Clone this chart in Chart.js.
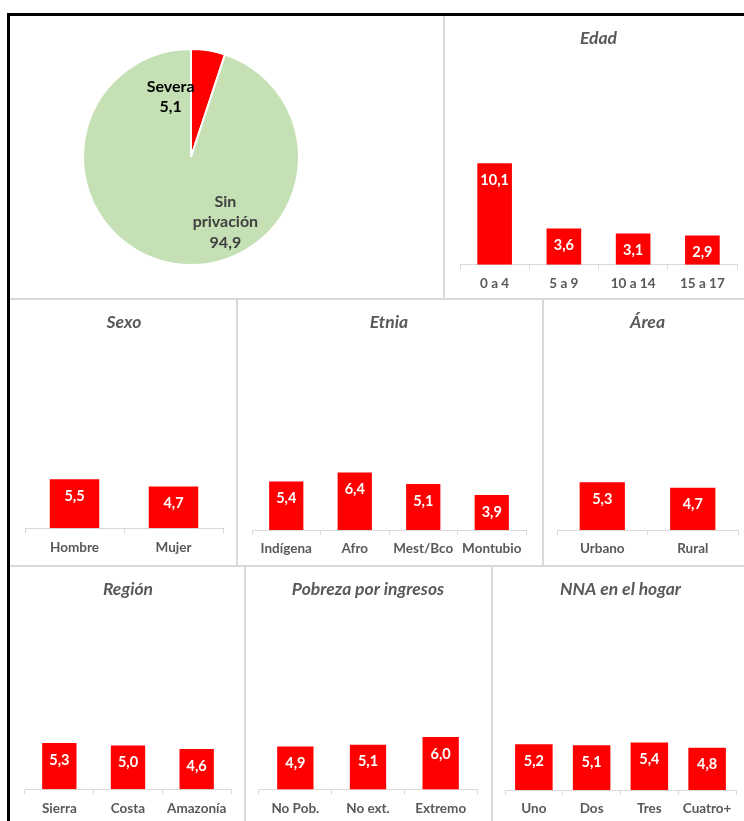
<!DOCTYPE html>
<html>
<head>
<meta charset="utf-8">
<script src="https://cdn.jsdelivr.net/npm/chart.js@4.4.1/dist/chart.umd.min.js"></script>
<style>
  body { margin: 0; background: #fff; width: 744px; height: 821px; overflow: hidden; position: relative; }
  #frame { position: absolute; left: 7px; top: 13px; width: 800px; height: 900px;
           border-left: 3px solid #000; border-top: 3px solid #000; }
  .panel { position: absolute; box-sizing: border-box;
           border-right: 2px solid #d9d9d9; border-bottom: 2px solid #d9d9d9; }
  canvas { position: absolute; }
</style>
</head>
<body>
<div id="frame"></div>
<div class="panel" style="left:10px;top:16px;width:435px;height:284px"></div>
<div class="panel" style="left:445px;top:16px;width:400px;height:284px"></div>
<div class="panel" style="left:10px;top:300px;width:228px;height:267px"></div>
<div class="panel" style="left:238px;top:300px;width:306px;height:267px"></div>
<div class="panel" style="left:544px;top:300px;width:300px;height:267px"></div>
<div class="panel" style="left:10px;top:567px;width:236px;height:300px"></div>
<div class="panel" style="left:246px;top:567px;width:247px;height:300px"></div>
<div class="panel" style="left:493px;top:567px;width:300px;height:300px"></div>

<canvas id="pie" width="433" height="282" style="left:10px;top:16px"></canvas>
<canvas id="edad" width="300" height="282" style="left:444px;top:16px"></canvas>
<canvas id="sexo" width="227" height="265" style="left:10px;top:300px"></canvas>
<canvas id="etnia" width="304" height="266" style="left:238px;top:300px"></canvas>
<canvas id="area" width="201" height="266" style="left:543px;top:300px"></canvas>
<canvas id="region" width="235" height="258" style="left:10px;top:567px"></canvas>
<canvas id="pobreza" width="246" height="258" style="left:246px;top:567px"></canvas>
<canvas id="nna" width="251" height="258" style="left:493px;top:567px"></canvas>

<script>
var FONT = 'Lato, "Open Sans", sans-serif';
var RED = '#ff0000';

// privación severa vs sin privación (%)
var pieLabels = ['Severa', 'Sin privación'];
var pieValues = [5.1, 94.9];

var edadLabels = ['0 a 4', '5 a 9', '10 a 14', '15 a 17'];
var edadValues = [10.1, 3.6, 3.1, 2.9];

var sexoLabels = ['Hombre', 'Mujer'];
var sexoValues = [5.5, 4.7];

var etniaLabels = ['Indígena', 'Afro', 'Mest/Bco', 'Montubio'];
var etniaValues = [5.4, 6.4, 5.1, 3.9];

var areaLabels = ['Urbano', 'Rural'];
var areaValues = [5.3, 4.7];

var regionLabels = ['Sierra', 'Costa', 'Amazonía'];
var regionValues = [5.3, 5.0, 4.6];

var pobrezaLabels = ['No Pob.', 'No ext.', 'Extremo'];
var pobrezaValues = [4.9, 5.1, 6.0];

var nnaLabels = ['Uno', 'Dos', 'Tres', 'Cuatro+'];
var nnaValues = [5.2, 5.1, 5.4, 4.8];

function fmt(v) {
    return v.toFixed(1).replace('.', ',');
}

// white value printed just inside the top of each bar
var barValueLabels = {
    id: 'barValueLabels',
    afterDatasetsDraw: function(chart) {
        var ctx = chart.ctx;
        var values = chart.data.datasets[0].data;
        ctx.save();
        ctx.fillStyle = '#fff';
        ctx.font = 'bold 14.5px ' + FONT;
        ctx.textAlign = 'center';
        ctx.textBaseline = 'middle';
        chart.getDatasetMeta(0).data.forEach(function(bar, i) {
            ctx.fillText(fmt(values[i]), bar.x, bar.y + 17);
        });
        ctx.restore();
    }
};

// "name / value" labels placed off each slice's centre point
var pieSliceLabels = {
    id: 'pieSliceLabels',
    afterDatasetsDraw: function(chart, args, opts) {
        var ctx = chart.ctx;
        var values = chart.data.datasets[0].data;
        ctx.save();
        ctx.font = 'bold 16px ' + FONT;
        ctx.textAlign = 'center';
        ctx.textBaseline = 'middle';
        chart.getDatasetMeta(0).data.forEach(function(arc, i) {
            var c = arc.getCenterPoint();
            var words = chart.data.labels[i].split(' ');
            var lines = words.concat([fmt(values[i])]);
            var x = c.x + opts.shift[i][0];
            var y = c.y + opts.shift[i][1] - (lines.length - 1) * opts.lineHeight / 2;
            ctx.fillStyle = opts.colors[i];
            lines.forEach(function(line, k) {
                ctx.fillText(line, x, y + k * opts.lineHeight);
            });
        });
        ctx.restore();
    }
};

new Chart(document.getElementById('pie'), {
    type: 'pie',
    data: {
        labels: pieLabels,
        datasets: [{
            data: pieValues,
            backgroundColor: [RED, '#c5e0b4'],
            borderColor: '#fff',
            borderWidth: 2,
            hoverOffset: 0
        }]
    },
    options: {
        responsive: false,
        animation: false,
        layout: { padding: { left: 72, right: 143, top: 32, bottom: 32 } },
        plugins: {
            legend: { display: false },
            tooltip: { enabled: false },
            pieSliceLabels: {
                shift: [[-29, -7], [43, 12]],
                colors: ['#000', '#404040'],
                lineHeight: 20.5
            }
        }
    },
    plugins: [pieSliceLabels]
});

function makeBar(id, title, labels, values, yMax, pad, barPct) {
    return new Chart(document.getElementById(id), {
        type: 'bar',
        data: {
            labels: labels,
            datasets: [{
                data: values,
                backgroundColor: RED,
                barPercentage: barPct,
                categoryPercentage: 1
            }]
        },
        options: {
            responsive: false,
            animation: false,
            layout: { padding: { left: pad[0], right: pad[1], top: 0, bottom: pad[2] } },
            plugins: {
                legend: { display: false },
                tooltip: { enabled: false },
                title: {
                    display: true,
                    text: title,
                    color: '#595959',
                    font: { family: FONT, size: 17.5, weight: 'bold', style: 'italic' },
                    padding: { top: 11.5, bottom: 8.5 }
                }
            },
            scales: {
                x: {
                    grid: { offset: true, drawOnChartArea: false, tickLength: 5, color: '#d9d9d9' },
                    border: { color: '#d9d9d9' },
                    ticks: {
                        color: '#595959',
                        padding: 6,
                        maxRotation: 0,
                        autoSkip: false,
                        font: { family: FONT, size: 13.5, weight: 'bold' }
                    }
                },
                y: { display: false, min: 0, max: yMax }
            }
        },
        plugins: [barValueLabels]
    });
}

makeBar('edad', 'Edad', edadLabels, edadValues, 20.7, [16, 7, 0.1], 0.5);
makeBar('sexo', 'Sexo', sexoLabels, sexoValues, 21, [15, 14, 3.5], 0.5);
makeBar('etnia', 'Etnia', etniaLabels, etniaValues, 21, [14, 16, 2.8], 0.5);
makeBar('area', 'Área', areaLabels, areaValues, 21, [14, 6, 2.8], 0.5);
makeBar('region', 'Región', regionLabels, regionValues, 20.7, [15, 14, 2.5], 0.5);
makeBar('pobreza', 'Pobreza por ingresos', pobrezaLabels, pobrezaValues, 20.7, [13, 15, 2.3], 0.5);
makeBar('nna', 'NNA en el hogar', nnaLabels, nnaValues, 20.7, [12, 8, 1.8], 0.65);
</script>
</body>
</html>
